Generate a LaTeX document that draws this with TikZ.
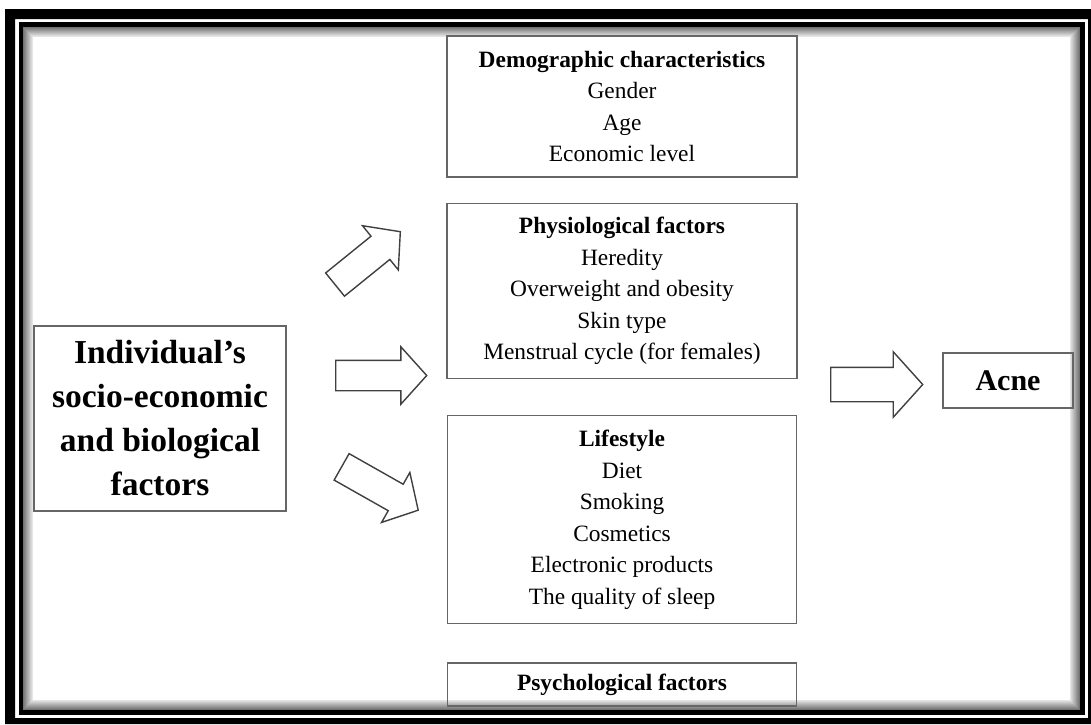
\documentclass[tikz,border=0pt]{standalone}
\usepackage{fontspec}
\setmainfont{Liberation Serif}
\usetikzlibrary{positioning,shapes.arrows}

\begin{document}
\begin{tikzpicture}[
  x=1pt,y=-1pt,
  box/.style={draw=black!60,line width=1.3pt,align=center,inner sep=0pt,
    font=\fontsize{23.4}{31.5}\selectfont},
  bigbox/.style={box,font=\bfseries\fontsize{33.5}{44}\selectfont},
  blockarr/.style={single arrow,draw=black!75,line width=1.4pt,fill=white,
    inner sep=0pt,single arrow tip angle=96,single arrow head extend=13.5pt,anchor=tail}
]
\useasboundingbox (0,0) rectangle (1091,724);
% frame with inner shadow
\fill[black,even odd rule] (5,9) rectangle (1091,724) (15,19) rectangle (1088,718);
\foreach \i in {0,...,9}{
  \pgfmathtruncatemacro\shd{55-5*\i}
  \draw[line width=1pt,black!\shd] (23.5+\i,27.5+\i) rectangle (1079.5-\i,709.5-\i);
}
\draw[line width=4.5pt] (21,24.5) rectangle (1082.5,712.5);

% boxes
\node[bigbox,minimum width=252pt,minimum height=185pt] (indiv) at (160,418.5)
  {Individual's\\socio-economic\\and biological\\factors};
\node[box,minimum width=350pt,minimum height=141pt] (demo) at (622,106.5)
  {\textbf{Demographic characteristics}\\Gender\\Age\\Economic level};
\node[box,minimum width=350pt,minimum height=175pt,below=25pt of demo] (physio)
  {\textbf{Physiological factors}\\Heredity\\Overweight and obesity\\Skin type\\Menstrual cycle (for females)};
\node[box,minimum width=349pt,minimum height=208pt,below=36pt of physio] (life)
  {\textbf{Lifestyle}\\Diet\\Smoking\\Cosmetics\\Electronic products\\The quality of sleep};
\node[box,minimum width=349pt,minimum height=43pt,below=38pt of life] (psych)
  {\textbf{Psychological factors}};
\node[box,minimum width=130pt,minimum height=55pt,font=\bfseries\fontsize{30}{36}\selectfont] (acne) at (1008,380.5)
  {Acne};

% block arrows
\node[blockarr,minimum height=84pt,rotate=39] (arrup) at (334.5,285) {\rule{0pt}{28.5pt}};
\node[blockarr,minimum height=91pt] (arrmid) at (335,375.5) {\rule{0pt}{29pt}};
\node[blockarr,minimum height=88pt,rotate=-29.5] (arrdown) at (341,466.5) {\rule{0pt}{29pt}};
\node[blockarr,minimum height=92pt,single arrow head extend=15.5pt] (arrout) at (830,384.5) {\rule{0pt}{33pt}};
\end{tikzpicture}
\end{document}
